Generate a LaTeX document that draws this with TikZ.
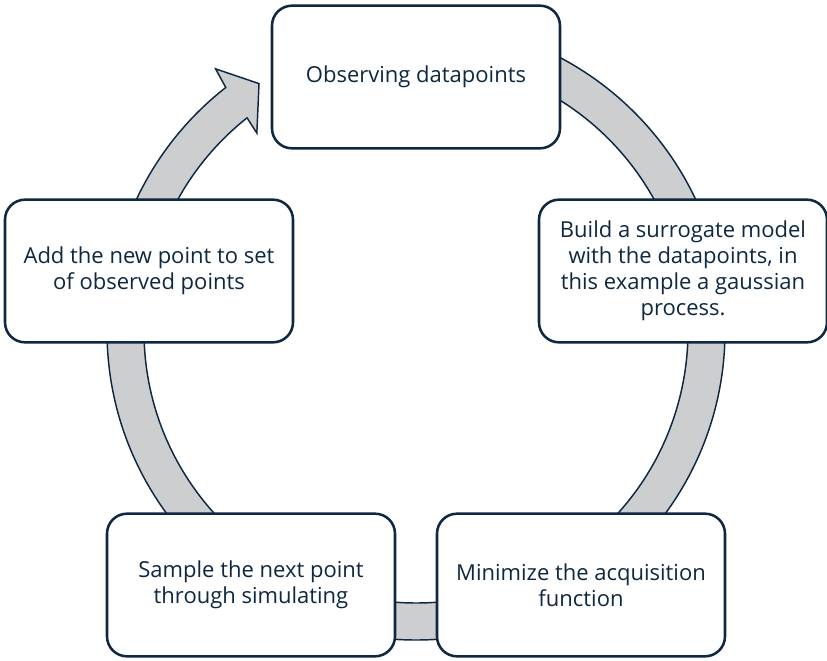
\documentclass[tikz,border=0pt]{standalone}
\usepackage{fontspec}
\setmainfont{Open Sans}
\usetikzlibrary{calc}

\definecolor{navy}{RGB}{14,40,65}
\definecolor{ringgray}{RGB}{205,206,208}

\tikzset{every picture/.style={line width=0.75pt}}
\tikzset{
  stepbox/.style={draw=navy, line width=1.9pt, fill=white, rounded corners=15pt,
    minimum width=216pt, minimum height=107pt, align=center, text=navy,
    font=\fontsize{16.5}{19.5}\selectfont},
  ringarrow/.style={draw=navy, line width=1.1pt, fill=ringgray, line join=miter}
}

\begin{document}
\begin{tikzpicture}[x=0.75pt,y=0.75pt,yscale=-1,xscale=1]
\useasboundingbox (0,0) rectangle (827,660);

\coordinate (c) at (416,331);
%Shape: Circular Arrow
\draw [ringarrow] ($(c)+(-90:309)$) arc [start angle=-90, end angle=232, radius=309]
  -- ($(c)+(232.6:330)$) -- ($(c)+(237.6:293)$) -- ($(c)+(231.2:254)$) -- ($(c)+(231.6:272)$)
  arc [start angle=231.6, end angle=-90, radius=272] -- cycle ;

%Shape: Rounded Rectangle
\draw (416,77) node (observe) [stepbox] {Observing datapoints};
%Shape: Rounded Rectangle
\draw (683,271) node (surrogate) [stepbox] {Build a surrogate model\\with the datapoints, in\\this example a gaussian\\process.};
%Shape: Rounded Rectangle
\draw (581,585) node (acquire) [stepbox] {Minimize the acquisition\\function};
%Shape: Rounded Rectangle
\draw (251,585) node (sample) [stepbox] {Sample the next point\\through simulating};
%Shape: Rounded Rectangle
\draw (149,271) node (addpoint) [stepbox] {Add the new point to set\\of observed points};

\end{tikzpicture}
\end{document}
